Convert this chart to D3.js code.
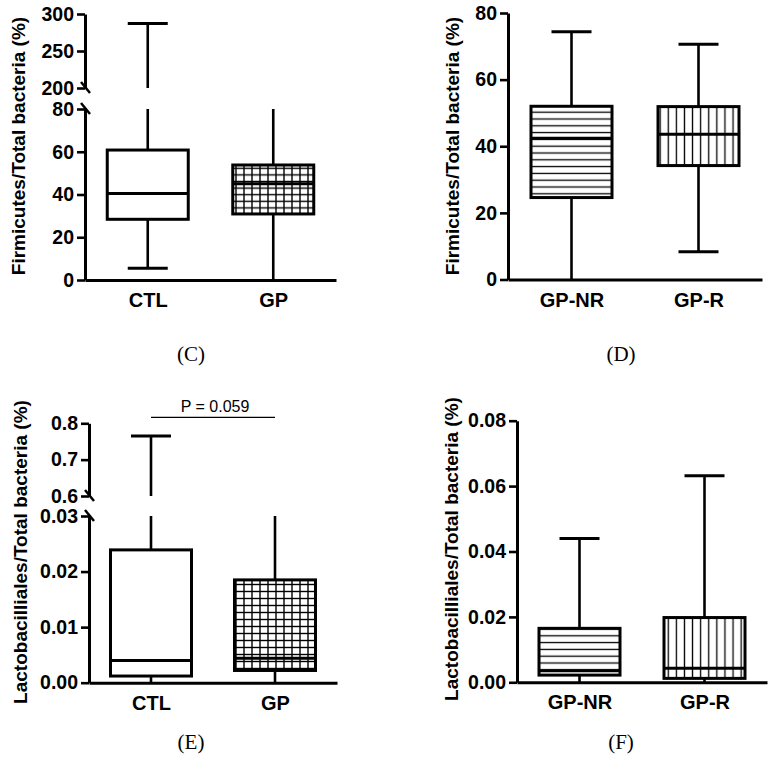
<!DOCTYPE html>
<html><head><meta charset="utf-8">
<script src="https://cdn.jsdelivr.net/npm/d3@7"></script>
<style>body{margin:0;background:#fff}</style>
</head><body>
<svg id="chart" width="778" height="772"></svg>
<script>
// ---------- DATA ----------
// Panel C: Firmicutes, CTL vs GP (broken axis)
const catsC = ["CTL", "GP"];
const minC = [5.5, 0];
const q1C = [28.4, 30.9];
const medC = [40.5, 45];
const q3C = [60.8, 53.8];
const maxC = [287, 150];          // GP maximum falls inside the axis break (not visible)
const ticksLowC = [0, 20, 40, 60, 80];
const labelsLowC = ["0", "20", "40", "60", "80"];
const ticksHighC = [200, 250, 300];
const labelsHighC = ["200", "250", "300"];

// Panel D: Firmicutes, GP-NR vs GP-R
const catsD = ["GP-NR", "GP-R"];
const minD = [0, 8.3];
const q1D = [24.6, 34.2];
const medD = [42.4, 43.6];
const q3D = [52.0, 51.9];
const maxD = [74.4, 70.6];
const ticksD = [0, 20, 40, 60, 80];
const labelsD = ["0", "20", "40", "60", "80"];

// Panel E: Lactobacilliales, CTL vs GP (broken axis)
const catsE = ["CTL", "GP"];
const minE = [0, 0];
const q1E = [0.0012, 0.0022];
const medE = [0.0040, 0.0044];
const q3E = [0.0239, 0.0185];
const maxE = [0.765, 0.3];        // GP maximum falls inside the axis break (not visible)
const ticksLowE = [0, 0.01, 0.02, 0.03];
const labelsLowE = ["0.00", "0.01", "0.02", "0.03"];
const ticksHighE = [0.6, 0.7, 0.8];
const labelsHighE = ["0.6", "0.7", "0.8"];
const pTextE = "P = 0.059";

// Panel F: Lactobacilliales, GP-NR vs GP-R
const catsF = ["GP-NR", "GP-R"];
const minF = [0, 0];
const q1F = [0.0022, 0.0012];
const medF = [0.0035, 0.0043];
const q3F = [0.0165, 0.0198];
const maxF = [0.044, 0.0632];
const ticksF = [0, 0.02, 0.04, 0.06, 0.08];
const labelsF = ["0.00", "0.02", "0.04", "0.06", "0.08"];

const yLabelFirm = "Firmicutes/Total bacteria (%)";
const yLabelLacto = "Lactobacilliales/Total bacteria (%)";
const panelTags = ["(C)", "(D)", "(E)", "(F)"];

// ---------- DRAWING ----------
const svg = d3.select("#chart");
const FONT = "'Liberation Sans', Arial, sans-serif";
const defs = svg.append("defs");

function makeGrid(id, w, h) {
  const p = defs.append("pattern").attr("id", id).attr("patternUnits", "userSpaceOnUse")
    .attr("width", w).attr("height", h);
  p.append("rect").attr("width", w).attr("height", h).attr("fill", "#fff");
  p.append("line").attr("x1", w / 2).attr("x2", w / 2).attr("y1", 0).attr("y2", h)
    .attr("stroke", "#000").attr("stroke-width", 1.4);
  p.append("line").attr("x1", 0).attr("x2", w).attr("y1", h / 2).attr("y2", h / 2)
    .attr("stroke", "#000").attr("stroke-width", 1.4);
}
function makeH(id, h) {
  const p = defs.append("pattern").attr("id", id).attr("patternUnits", "userSpaceOnUse")
    .attr("width", 10).attr("height", h);
  p.append("rect").attr("width", 10).attr("height", h).attr("fill", "#fff");
  p.append("line").attr("x1", 0).attr("x2", 10).attr("y1", h / 2).attr("y2", h / 2)
    .attr("stroke", "#000").attr("stroke-width", 1.3);
}
function makeV(id, w) {
  const p = defs.append("pattern").attr("id", id).attr("patternUnits", "userSpaceOnUse")
    .attr("width", w).attr("height", 10);
  p.append("rect").attr("width", w).attr("height", 10).attr("fill", "#fff");
  p.append("line").attr("x1", w / 2).attr("x2", w / 2).attr("y1", 0).attr("y2", 10)
    .attr("stroke", "#000").attr("stroke-width", 1.3);
}
makeGrid("gridC", 8, 6.6);
makeGrid("gridE", 8, 7);
makeH("hstripe", 6.8);
makeV("vstripe", 8.1);

function drawPanel(cfg) {
  const g = svg.append("g");
  const L = cfg.layout;
  const broken = !!cfg.ticksHigh;
  const yLow = d3.scaleLinear().domain([0, L.lowMax]).range([L.baseY, L.lowTopY]);
  const yHigh = broken ? d3.scaleLinear().domain([L.highMin, L.highMax]).range([L.highBottomY, L.highTopY]) : null;
  const x = d3.scalePoint().domain(cfg.cats).range([L.axisX, L.xEnd]).padding(0.5);

  const axLow = g.append("g").attr("transform", `translate(${L.axisX},0)`)
    .call(d3.axisLeft(yLow).tickValues(cfg.ticksLow).tickFormat((d, i) => cfg.labelsLow[i])
      .tickSize(8).tickSizeOuter(0).tickPadding(3));
  const axes = [axLow];
  if (broken) {
    const axHigh = g.append("g").attr("transform", `translate(${L.axisX},0)`)
      .call(d3.axisLeft(yHigh).tickValues(cfg.ticksHigh).tickFormat((d, i) => cfg.labelsHigh[i])
        .tickSize(8).tickSizeOuter(0).tickPadding(3));
    axes.push(axHigh);
    [yHigh(L.highMin), yLow(L.lowMax)].forEach(yy => {
      g.append("line").attr("x1", L.axisX - 4).attr("x2", L.axisX + 5)
        .attr("y1", yy - 6).attr("y2", yy + 5)
        .attr("stroke", "#000").attr("stroke-width", 2.5);
    });
  }
  const axX = g.append("g").attr("transform", `translate(0,${L.baseY})`)
    .call(d3.axisBottom(x).tickSize(0).tickSizeOuter(0).tickPadding(13));
  axes.push(axX);
  axes.forEach(a => {
    a.select(".domain").attr("stroke", "#000").attr("stroke-width", 3);
    a.selectAll(".tick line").attr("stroke", "#000").attr("stroke-width", 2.6);
    a.selectAll(".tick text").attr("font-family", FONT).attr("font-weight", "bold")
      .attr("font-size", 19.5).attr("fill", "#000");
  });
  axX.selectAll(".tick text").attr("font-size", 20);

  const boxW = 81, capW = 40;
  cfg.cats.forEach((c, i) => {
    const cx = x(c);
    const line = (y1, y2, x1 = cx, x2 = cx, w = 2.6) => g.append("line")
      .attr("x1", x1).attr("x2", x2).attr("y1", y1).attr("y2", y2)
      .attr("stroke", "#000").attr("stroke-width", w);
    const mx = cfg.max[i];
    if (broken && mx > L.lowMax) {
      line(yLow(cfg.q3[i]), yLow(L.lowMax));
      if (mx >= L.highMin) {
        line(yHigh(L.highMin), yHigh(mx));
        line(yHigh(mx), yHigh(mx), cx - capW / 2, cx + capW / 2, 3);
      }
    } else {
      line(yLow(cfg.q3[i]), yLow(mx));
      line(yLow(mx), yLow(mx), cx - capW / 2, cx + capW / 2, 3);
    }
    line(yLow(cfg.q1[i]), yLow(cfg.min[i]));
    if (cfg.min[i] > 0) line(yLow(cfg.min[i]), yLow(cfg.min[i]), cx - capW / 2, cx + capW / 2, 3);
    g.append("rect").attr("x", cx - boxW / 2).attr("width", boxW)
      .attr("y", yLow(cfg.q3[i])).attr("height", yLow(cfg.q1[i]) - yLow(cfg.q3[i]))
      .attr("fill", cfg.fills[i]).attr("stroke", "#000").attr("stroke-width", 3);
    line(yLow(cfg.med[i]), yLow(cfg.med[i]), cx - boxW / 2, cx + boxW / 2, 3);
  });

  g.append("text").attr("transform", `translate(${L.labelX},${L.labelY}) rotate(-90)`)
    .attr("text-anchor", "middle").attr("font-family", FONT).attr("font-weight", "bold")
    .attr("font-size", 19).attr("fill", "#000").text(cfg.ylabel);

  svg.append("text").attr("x", L.tagX).attr("y", L.tagY).attr("text-anchor", "middle")
    .attr("font-family", "'Liberation Serif', 'Times New Roman', serif").attr("font-size", 21)
    .attr("fill", "#000").text(cfg.tag);

  if (cfg.pText) {
    const yy = yHigh(L.highMax) - 6;
    const x1 = x(cfg.cats[0]), x2 = x(cfg.cats[1]);
    g.append("line").attr("x1", x1).attr("x2", x2).attr("y1", yy).attr("y2", yy)
      .attr("stroke", "#000").attr("stroke-width", 1.2);
    g.append("text").attr("x", (x1 + x2) / 2 + 2).attr("y", yy - 5).attr("text-anchor", "middle")
      .attr("font-family", FONT).attr("font-size", 16).attr("fill", "#000").text(cfg.pText);
  }
}

drawPanel({
  cats: catsC, min: minC, q1: q1C, med: medC, q3: q3C, max: maxC,
  ticksLow: ticksLowC, labelsLow: labelsLowC, ticksHigh: ticksHighC, labelsHigh: labelsHighC,
  fills: ["#fff", "url(#gridC)"], ylabel: yLabelFirm, tag: panelTags[0],
  layout: { axisX: 85, xEnd: 336, baseY: 280, lowTopY: 109, lowMax: 80,
    highMin: 200, highMax: 300, highBottomY: 88, highTopY: 14,
    labelX: 25, labelY: 146, tagX: 191, tagY: 361 }
});
drawPanel({
  cats: catsD, min: minD, q1: q1D, med: medD, q3: q3D, max: maxD,
  ticksLow: ticksD, labelsLow: labelsD,
  fills: ["url(#hstripe)", "url(#vstripe)"], ylabel: yLabelFirm, tag: panelTags[1],
  layout: { axisX: 508, xEnd: 762, baseY: 279.5, lowTopY: 13, lowMax: 80,
    labelX: 459, labelY: 146, tagX: 621, tagY: 361 }
});
drawPanel({
  cats: catsE, min: minE, q1: q1E, med: medE, q3: q3E, max: maxE,
  ticksLow: ticksLowE, labelsLow: labelsLowE, ticksHigh: ticksHighE, labelsHigh: labelsHighE,
  fills: ["#fff", "url(#gridE)"], ylabel: yLabelLacto, tag: panelTags[2], pText: pTextE,
  layout: { axisX: 89, xEnd: 337, baseY: 682.7, lowTopY: 516, lowMax: 0.03,
    highMin: 0.6, highMax: 0.8, highBottomY: 496, highTopY: 423.3,
    labelX: 27, labelY: 552, tagX: 191, tagY: 749 }
});
drawPanel({
  cats: catsF, min: minF, q1: q1F, med: medF, q3: q3F, max: maxF,
  ticksLow: ticksF, labelsLow: labelsF,
  fills: ["url(#hstripe)", "url(#vstripe)"], ylabel: yLabelLacto, tag: panelTags[3],
  layout: { axisX: 517, xEnd: 767, baseY: 682.3, lowTopY: 420.7, lowMax: 0.08,
    labelX: 458, labelY: 549, tagX: 621, tagY: 749 }
});
</script>
</body></html>
